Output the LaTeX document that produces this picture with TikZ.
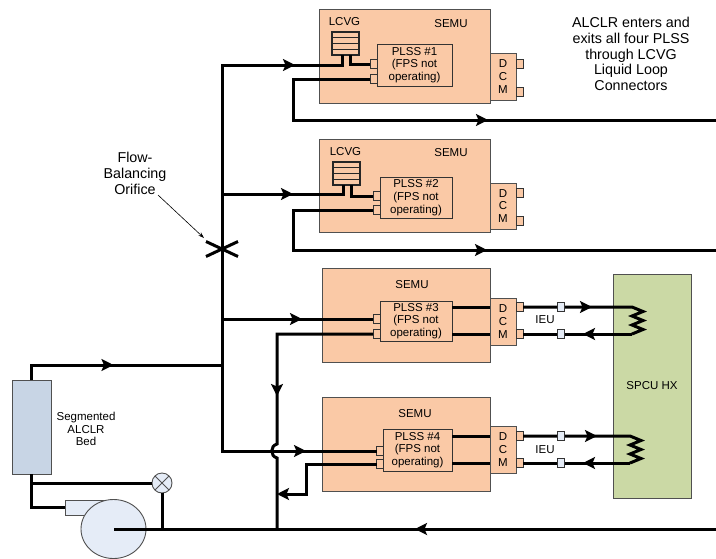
\documentclass[tikz,border=0pt]{standalone}
\usepackage{fontspec}
\setmainfont{Liberation Sans}
\usetikzlibrary{arrows.meta,decorations.markings,shapes.misc,shapes.geometric}
\definecolor{suitfill}{HTML}{FAC9A6}
\definecolor{hxfill}{HTML}{CBD9A5}
\definecolor{bedfill}{HTML}{C8D5E5}
\definecolor{pumpfill}{HTML}{E5ECF7}
\definecolor{edge}{HTML}{505050}
\tikzset{>={Stealth[length=12pt,width=12pt,inset=2.5pt]}}
\tikzset{
  pxbox/.style={draw=edge,line width=0.9pt,inner sep=0pt,outer sep=0pt,anchor=north west,align=center,font=\fontsize{11.5}{12.7}\selectfont},
  portbox/.style={draw=black!80,line width=0.8pt,fill=suitfill,inner sep=0pt,outer sep=0pt,minimum width=7pt,minimum height=8.5pt},
  label/.style={inner sep=0pt,align=center,font=\fontsize{11.5}{12.7}\selectfont},
  biglabel/.style={inner sep=0pt,align=center,font=\fontsize{14.3}{15.8}\selectfont},
  wire/.style={line width=3pt,black},
  flow/.style={postaction={decorate,decoration={markings,mark=at position #1 with {\arrow{>}}}}},
}
\newcommand{\pxnode}[7]{\node[pxbox,#1,minimum width={(#5-#3)*1pt},minimum height={(#6-#4)*1pt}] (#2) at (#3,#4) {#7};}
\begin{document}
\begin{tikzpicture}[x=1pt,y=-1pt]
  \useasboundingbox (0,0) rectangle (716,558);
  \foreach \n/\sL/\sT/\sB/\pL/\pT/\pB/\dT/\dB in {1/319/9/103/377/44/86/53/100,2/319/139/232/380/177/218/183/229,3/322/268/362/380/301/341/298/345,4/322/397/491/383/429/471/426/473}{ % suit, plss, dcm
    \pxnode{fill=suitfill}{dcm\n}{490}{\dT}{516}{\dB}{D\\C\\M}
    \pxnode{fill=suitfill}{semu\n}{\sL}{\sT}{490}{\sB}{}
    \pxnode{fill=suitfill,draw=black!80}{plss\n}{\pL}{\pT}{452}{\pB}{PLSS \#\n\\(FPS not\\operating)}
  }
  \foreach \n/\x/\ya/\yb/\da/\db in {1/373.5/64/79/64/92,2/376.5/196/210/193/221,3/376.5/319/334/307/334,4/380/451/464/436/463}{ % connectors on plss and dcm
    \node[portbox] (port\n a) at (\x,\ya) {};
    \node[portbox] (port\n b) at (\x,\yb) {};
    \node[portbox] (dport\n a) at (519.5,\da) {};
    \node[portbox] (dport\n b) at (519.5,\db) {};
  }
  \node[label] (lab1) at (451,24) {SEMU};
  \node[label] (lab2) at (451,153) {SEMU};
  \node[label] (lab3) at (412,285) {SEMU};
  \node[label] (lab4) at (415,414) {SEMU};
  \foreach \n/\x/\y in {1/332/32,2/333/162}{ % garment stacks
    \pxnode{draw=black!85,line width=1.1pt,fill=suitfill}{lcvg\n}{\x}{\y}{\x+27}{\y+23}{}
    \foreach \k in {1,2,3}
      \draw[black!85,line width=0.8pt] (\x,\y+\k*5.75) -- (\x+27,\y+\k*5.75);
    \node[label] (lcvglab\n) at (\x+12.5,\y-10.5) {LCVG};
    \coordinate (stem\n a) at (\x+10,\y+23);
    \coordinate (stem\n b) at (\x+18,\y+23);
  }
  \pxnode{fill=hxfill,font=\fontsize{11.5}{12.7}\selectfont}{spcu}{613}{274}{691}{498}{SPCU HX}
  \pxnode{fill=bedfill}{bed}{12}{380}{51}{474}{}
  \node[label] (bedlab) at (86,429) {Segmented\\ALCLR\\Bed};
  \node[biglabel] (note) at (631,54) {ALCLR enters and\\exits all four PLSS\\through LCVG\\Liquid Loop\\Connectors};
  \node[biglabel] (flowlab) at (135,173.5) {Flow-\\Balancing\\Orifice};
  \node[label] (ieu3) at (545,320) {IEU};
  \node[label] (ieu4) at (545,450) {IEU};
  \pxnode{fill=pumpfill}{outlet}{65}{500}{114}{515}{}
  \node[draw=edge,line width=0.9pt,fill=pumpfill,ellipse,inner sep=0pt,outer sep=0pt,minimum width=65pt,minimum height=59pt] (pump) at (113.5,529) {};
  \node[draw=edge,line width=0.9pt,fill=pumpfill,circle,inner sep=0pt,outer sep=0pt,minimum size=20pt,
    path picture={\draw[edge,line width=0.9pt] (path picture bounding box.north west) -- (path picture bounding box.south east) (path picture bounding box.north east) -- (path picture bounding box.south west);}] (valve) at (162,483) {};
  \node[draw,cross out,line width=3pt,inner sep=0pt,outer sep=0pt,minimum width=32pt,minimum height=15pt] (orifice) at (222,249) {};
  % junctions on the supply line
  \coordinate (tr1) at (222,65);
  \coordinate (tr2) at (222,194);
  \coordinate (tr3) at (222,319);
  \coordinate (tr4) at (222,451);
  \coordinate (trbed) at (222,365);
  \coordinate (rt1) at (716,120);
  \coordinate (rt2) at (716,250);
  \coordinate (rt3) at (716,529);
  \coordinate (ret4) at (277,494);
  \coordinate (flowtail) at (158,195);
  \draw[wire,line cap=rect] (tr1) -- (tr4);
  \draw[wire,flow=73pt] (tr1) -- (tr1 -| stem1a) -- (stem1a);
  \draw[wire] (stem1b) -- (stem1b |- port1a) -- (port1a.west);
  \draw[wire,flow=-228pt] (port1b.west) -- (293,79) -- (293,120) -- (rt1);
  \draw[wire,flow=71pt] (tr2) -- (tr2 -| stem2a) -- (stem2a);
  \draw[wire] (stem2b) -- (stem2b |- port2a) -- (port2a.west);
  \draw[wire,flow=-229pt] (port2b.west) -- (293,210) -- (293,250) -- (rt2);
  \draw[wire,flow=80pt] (tr3) -- (port3a.west);
  \draw[wire,flow=158pt] (port3b.west) -- (277,334) -- (277,444) .. controls (270,446) and (270,456) .. (277,458) -- (277,529);
  \draw[wire,flow=84pt] (tr4) -- (port4a.west);
  \draw[wire,->] (port4b.west) -- (306,464) -- (306,494) -- (ret4);
  \draw[wire,flow=97pt] (bed.north) -- (31.5,365) -- (trbed);
  \draw[wire,flow=301pt] (rt3) -- (pump.center);
  \draw[wire] (valve.south) -- (162,529);
  \draw[wire] (bed.south) -- (31.5,483) -- (valve.west);
  \draw[wire] (31.5,483) -- (31.5,507) -- (outlet.west |- 31.5,507);
  \foreach \n in {3,4}{ % through the suit to the dcm
    \draw[wire] (plss\n.east |- dport\n a) -- (dcm\n.west |- dport\n a);
    \draw[wire] (plss\n.east |- dport\n b) -- (dcm\n.west |- dport\n b);
  }
  % coils in the heat exchanger
  \foreach \n/\x/\tipa/\tipb in {3/632/69/49,4/630/74/47}{
    \coordinate (coil\n a) at (\x,0 |- dport\n a);
    \coordinate (coil\n b) at (\x,0 |- dport\n b);
    \draw[wire,flow=\tipa pt] (dport\n a.east) -- (\x,0 |- dport\n a) -- ++(11,4.5) -- ++(-11,4.5) -- ++(11,4.5) -- ++(-11,4.5) -- ++(11,4.5) -- (coil\n b);
    \draw[wire,flow=\tipb pt] (coil\n b) -- (dport\n b.east);
    \node[portbox,fill=pumpfill,minimum width=6.5pt] (ieu\n a) at (561,0 |- dport\n a) {};
    \node[portbox,fill=pumpfill,minimum width=6.5pt] (ieu\n b) at (561,0 |- dport\n b) {};
  }
  \draw[-{Stealth[length=6pt,width=4pt]},line width=0.6pt] (flowtail) -- (204,238);
\end{tikzpicture}
\end{document}
